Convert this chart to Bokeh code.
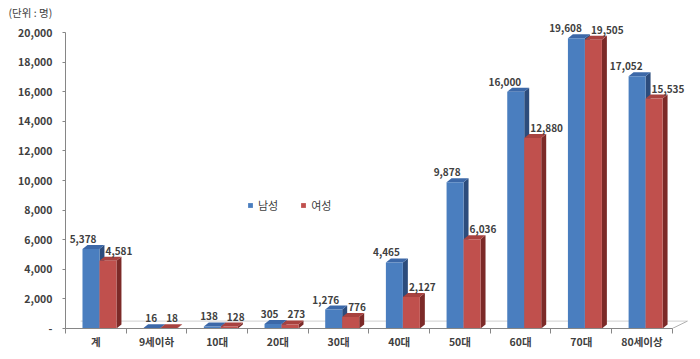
from bokeh.plotting import figure
from bokeh.models import (ColumnDataSource, FixedTicker, NumeralTickFormatter, Legend,
                          LegendItem, Range1d)
from bokeh.core.properties import value
from bokeh.embed import file_html
from bokeh.resources import INLINE

# ---- data ----
categories = ["계", "9세이하", "10대", "20대", "30대", "40대", "50대", "60대", "70대", "80세이상"]
male = [5378, 16, 138, 305, 1276, 4465, 9878, 16000, 19608, 17052]
female = [4581, 18, 128, 273, 776, 2127, 6036, 12880, 19505, 15535]
y_ticks = list(range(0, 20001, 2000))
series_names = ["남성", "여성"]
unit_title = "(단위 : 명)"

FONT = "Noto Sans CJK KR"
TXT = "#404040"

# geometry (data units)
BW = 0.28      # front face width
SHIFT = 0.06   # boundary between the two bars relative to category centre
DX = 0.082     # depth offset x
DY = 270       # depth offset y
FDX, FDY = 0.25, 500  # floor depth

n = len(categories)
centers = [i + 0.5 for i in range(n)]

def bar_geoms(lefts, vals):
    fronts = dict(left=lefts, right=[l + BW for l in lefts], top=vals, bottom=[0] * len(vals))
    side_xs, side_ys, top_xs, top_ys = [], [], [], []
    for l, v in zip(lefts, vals):
        r = l + BW
        side_xs.append([r, r + DX, r + DX, r])
        side_ys.append([0, DY, v + DY, v])
        top_xs.append([l, r, r + DX, l + DX])
        top_ys.append([v, v, v + DY, v + DY])
    return fronts, dict(xs=side_xs, ys=side_ys), dict(xs=top_xs, ys=top_ys)

p = figure(width=692, height=351, output_backend="svg", toolbar_location=None,
           x_range=Range1d(0, 10.3), y_range=Range1d(0, 20880),
           min_border_left=65, min_border_right=2, min_border_top=19, min_border_bottom=23,
           title=unit_title)
p.outline_line_color = None
p.xgrid.visible = False
p.ygrid.visible = False
p.background_fill_color = "white"

p.title.text_font = FONT
p.title.text_font_size = "10.5px"
p.title.text_font_style = "normal"
p.title.text_color = TXT
p.title.align = "left"
p.title.offset = -57
p.title.standoff = 0

# floor
p.line([FDX, 10 + FDX], [FDY, FDY], line_color="#d0d0d0", line_width=1)
p.line([10, 10 + FDX], [0, FDY], line_color="#b0b0b0", line_width=1)

boundaries = [c + SHIFT for c in centers]
m_left = [b - BW for b in boundaries]
f_left = boundaries

mf, ms, mt = bar_geoms(m_left, male)
ff, fs, ft = bar_geoms(f_left, female)

blue_front, blue_top, blue_side = "#4a7ebf", "#3c68a8", "#2c4c7c"
red_front, red_top, red_side = "#c0504d", "#a8423f", "#7c2a28"

p.patches(source=ColumnDataSource(ms), xs="xs", ys="ys", fill_color=blue_side, line_color=None)
p.patches(source=ColumnDataSource(mt), xs="xs", ys="ys", fill_color=blue_top, line_color=None)
rm = p.quad(source=ColumnDataSource(mf), left="left", right="right", top="top", bottom="bottom",
            fill_color=blue_front, line_color=None)
p.patches(source=ColumnDataSource(fs), xs="xs", ys="ys", fill_color=red_side, line_color=None)
p.patches(source=ColumnDataSource(ft), xs="xs", ys="ys", fill_color=red_top, line_color=None)
rf = p.quad(source=ColumnDataSource(ff), left="left", right="right", top="top", bottom="bottom",
            fill_color=red_front, line_color=None)

# value labels
p.text(x=boundaries, y=male, text=[f"{v:,}" for v in male], text_align="right",
       text_baseline="bottom", x_offset=-3, y_offset=-6, text_font=value(FONT),
       text_font_size="10px", text_font_style="bold", text_color=TXT)
p.text(x=boundaries, y=female, text=[f"{v:,}" for v in female], text_align="left",
       text_baseline="bottom", x_offset=6, y_offset=-6, text_font=value(FONT),
       text_font_size="10px", text_font_style="bold", text_color=TXT)

# axes
xa = p.xaxis[0]
xa.ticker = FixedTicker(ticks=centers, minor_ticks=list(range(0, n + 1)))
xa.major_label_overrides = {c: lab for c, lab in zip(centers, categories)}
xa.bounds = (0, n)
xa.major_tick_line_color = None
xa.major_tick_in = 0
xa.major_tick_out = 0
xa.minor_tick_in = 0
xa.minor_tick_out = 5
xa.minor_tick_line_color = "#868686"
xa.axis_line_color = "#868686"
xa.major_label_standoff = 0
xa.major_label_text_font = FONT
xa.major_label_text_font_size = "10.5px"
xa.major_label_text_font_style = "bold"
xa.major_label_text_color = TXT

ya = p.yaxis[0]
ya.ticker = FixedTicker(ticks=y_ticks, minor_ticks=[])
ya.formatter = NumeralTickFormatter(format="0,0")
ya.major_label_overrides = {0: "-"}
ya.bounds = (0, 20000)
ya.major_tick_in = 0
ya.major_tick_out = 3
ya.major_tick_line_color = "#868686"
ya.axis_line_color = "#868686"
ya.major_label_standoff = 10
ya.major_label_text_font = FONT
ya.major_label_text_font_size = "10.5px"
ya.major_label_text_font_style = "bold"
ya.major_label_text_color = TXT

legend = Legend(items=[LegendItem(label=series_names[0], renderers=[rm]),
                       LegendItem(label=series_names[1], renderers=[rf])],
                orientation="horizontal", location=(182, 115),
                glyph_width=6, glyph_height=6, label_standoff=5, spacing=22,
                padding=0, margin=0, border_line_alpha=0, background_fill_alpha=0,
                label_text_font=FONT, label_text_font_size="11px", label_text_color=TXT)
p.add_layout(legend, "center")

open("out.html", "w").write(file_html(p, INLINE))
